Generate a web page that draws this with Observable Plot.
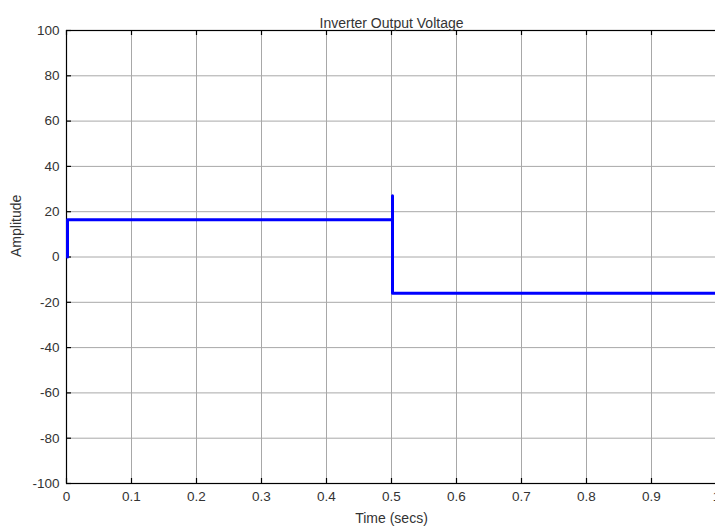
<!DOCTYPE html>
<html>
<head>
<meta charset="utf-8">
<script src="https://cdn.jsdelivr.net/npm/d3@7"></script>
<script src="https://cdn.jsdelivr.net/npm/@observablehq/plot@0.6"></script>
<style>
  html, body { margin: 0; padding: 0; background: #fff; }
  svg { display: block; }
</style>
</head>
<body>
<div id="chart"></div>
<script>
const title = "Inverter Output Voltage";
const xLabel = "Time (secs)";
const yLabel = "Amplitude";
const time = [0, 0, 0.5, 0.5, 0.5, 1];
const voltage = [0, 16.5, 16.5, 27, -16, -16];
const xTicks = [0, 0.1, 0.2, 0.3, 0.4, 0.5, 0.6, 0.7, 0.8, 0.9, 1];
const xTickLabels = ["0", "0.1", "0.2", "0.3", "0.4", "0.5", "0.6", "0.7", "0.8", "0.9", "1"];
const yTicks = [-100, -80, -60, -40, -20, 0, 20, 40, 60, 80, 100];
const yTickLabels = ["-100", "-80", "-60", "-40", "-20", "0", "20", "40", "60", "80", "100"];

const series = time.map((t, i) => ({t, v: voltage[i]}));
const font = "Liberation Sans, Arial, sans-serif";
const txt = "#333";
const grid = "#a8a8a8";
const tickLenX = 2.2;   // in y units (~5px)
const tickLenY = 0.0077; // in x units (~5px)

const chart = Plot.plot({
  width: 715,
  height: 532,
  marginLeft: 66,
  marginRight: -1,
  marginTop: 30,
  marginBottom: 49,
  style: {fontFamily: font, fontSize: "13.5px", background: "#fff", overflow: "hidden"},
  x: {type: "linear", domain: [0, 1]},
  y: {type: "linear", domain: [-100, 100]},
  marks: [
    Plot.ruleX(xTicks, {x: d => d, stroke: grid, strokeWidth: 1}),
    Plot.ruleY(yTicks, {y: d => d, stroke: grid, strokeWidth: 1}),
    Plot.ruleX(xTicks, {x: d => d, y1: -100, y2: -100 + tickLenX, stroke: "#000", strokeWidth: 1.2}),
    Plot.ruleX(xTicks, {x: d => d, y1: 100, y2: 100 - tickLenX, stroke: "#000", strokeWidth: 1.2}),
    Plot.ruleY(yTicks, {y: d => d, x1: 0, x2: tickLenY, stroke: "#000", strokeWidth: 1.2}),
    Plot.axisX({ticks: xTicks, tickFormat: d => xTickLabels[xTicks.indexOf(d)], tickSize: 0, tickPadding: 8, fill: txt, label: null, fontSize: 13.5}),
    Plot.axisY({ticks: yTicks, tickFormat: d => yTickLabels[yTicks.indexOf(d)], tickSize: 0, tickPadding: 7, fill: txt, label: null, fontSize: 13.5}),
    Plot.frame({stroke: "#000", strokeWidth: 1.2}),
    Plot.line(series, {x: "t", y: "v", stroke: "#0000ff", strokeWidth: 3, curve: "linear", dx: 1}),
    Plot.text([title], {frameAnchor: "top", dy: -12, fill: txt, fontSize: 14}),
    Plot.text([xLabel], {frameAnchor: "bottom", dy: 39, fill: txt, fontSize: 14}),
    Plot.text([yLabel], {frameAnchor: "left", dx: -50, rotate: -90, fill: txt, fontSize: 14})
  ]
});
document.getElementById("chart").appendChild(chart);
</script>
</body>
</html>
